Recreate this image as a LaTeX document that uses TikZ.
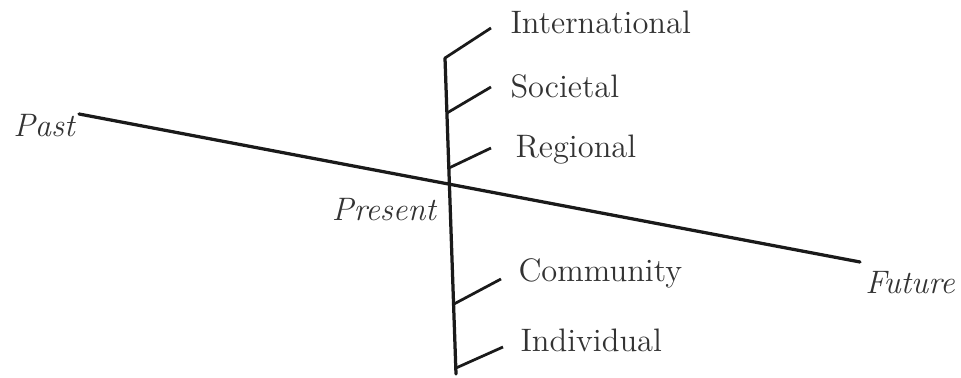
\documentclass[tikz,border=0pt]{standalone}
\usepackage{tikz}
\usetikzlibrary{backgrounds}
\definecolor{axisblack}{HTML}{1A1A1A}
\definecolor{labelgrey}{HTML}{333333}

\begin{document}
\begin{tikzpicture}[x=0.4pt, y=-0.4pt,
    font=\fontsize{13}{15}\selectfont,
    axis/.style={axisblack, line width=1.3pt, line cap=round},
    branch/.style={axisblack, line width=1.1pt},
    scalelabel/.style={labelgrey, anchor=west, inner sep=0pt},
    timelabel/.style={labelgrey, font=\fontsize{13}{15}\selectfont\itshape, inner sep=0pt}]
  \useasboundingbox (0,0) rectangle (961,378);

  % --- the time line, past to future
  \node[timelabel] (past) at (44,126) {Past};
  \node[timelabel] (future) at (910,283) {Future};
  \node[timelabel] (present) at (384,210) {Present};
  \coordinate (pastend) at (79,114);
  \coordinate (futureend) at (860,262);
  \draw[axis] (pastend) -- (futureend);

  % --- the vertical axis of scales
  \coordinate (top) at (445,58);
  \coordinate (bottom) at (456,374);
  \draw[axis] (top) -- (bottom);

  \node[scalelabel] (intl) at (510,22) {International};
  \node[scalelabel] (soc) at (510,86) {Societal};
  \node[scalelabel] (reg) at (515,150) {Regional};
  \node[scalelabel] (comm) at (518,273) {Community};
  \node[scalelabel] (indiv) at (520,340) {Individual};

  \coordinate (intlend) at (491,28);
  \coordinate (socend) at (491,87);
  \coordinate (regend) at (491,148);
  \coordinate (commend) at (501,279);
  \coordinate (indivend) at (503,347);

  \coordinate (socfoot) at (447,113);
  \coordinate (regfoot) at (449,168);
  \coordinate (commfoot) at (454,304);
  \coordinate (indivfoot) at (456,368);

  \draw[branch] (top) -- (intlend);
  \draw[branch] (socfoot) -- (socend);
  \draw[branch] (regfoot) -- (regend);
  \draw[branch] (commfoot) -- (commend);
  \draw[branch] (indivfoot) -- (indivend);
\end{tikzpicture}
\end{document}
